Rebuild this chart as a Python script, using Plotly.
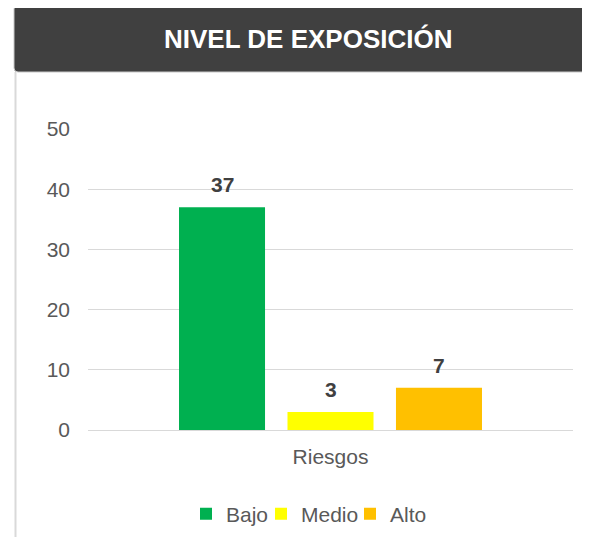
import plotly.graph_objects as go

# page is 590x545; the figure sits at (8, 8) because of the page's body margin
PAGE_W, PAGE_H = 590, 545
OFF = 8
W, H = PAGE_W - OFF, PAGE_H - 2 * OFF

category = ["Riesgos"]
series_names = ["Bajo", "Medio", "Alto"]
series_values = [37, 3, 7]
series_colors = ["#00B050", "#FFFF00", "#FFC000"]
y_ticks = [0, 10, 20, 30, 40, 50]
title_text = "NIVEL DE EXPOSICIÓN"

FONT = "Liberation Sans, Arial, sans-serif"
TXT = "#595959"

# plot area in page pixels
pl, pr, pt, pb = 88, 573, 129, 430
# legend entry left edges (page pixels)
legend_left = [186, 261, 350]


def px(x):
    return (x - OFF) / W


def py(y):
    return 1 - (y - OFF) / H


legend_ids = ["legend", "legend2", "legend3"]

fig = go.Figure()
for name, val, col, lid in zip(series_names, series_values, series_colors, legend_ids):
    fig.add_trace(go.Bar(
        x=category, y=[val], name=name, marker=dict(color=col, line=dict(width=0)),
        legend=lid,
    ))

# data labels above bars
slot_px = 108.5
offsets = [-slot_px, 0, slot_px]
for val, off in zip(series_values, offsets):
    fig.add_annotation(
        x=category[0], y=val, xref="x", yref="y", text=f"<b>{val}</b>",
        showarrow=False, xshift=off, yshift=9, yanchor="bottom",
        font=dict(family=FONT, size=21, color="#404040"),
    )


def rounded_rect(x0, y0, x1, y1, r):
    return (f"M {px(x0+r)},{py(y0)} L {px(x1-r)},{py(y0)} Q {px(x1)},{py(y0)} {px(x1)},{py(y0+r)} "
            f"L {px(x1)},{py(y1-r)} Q {px(x1)},{py(y1)} {px(x1-r)},{py(y1)} "
            f"L {px(x0+r)},{py(y1)} Q {px(x0)},{py(y1)} {px(x0)},{py(y1-r)} "
            f"L {px(x0)},{py(y0+r)} Q {px(x0)},{py(y0)} {px(x0+r)},{py(y0)} Z")


shapes = [
    dict(type="path", xref="paper", yref="paper", path=rounded_rect(14, 5, 640, 72, 4),
         fillcolor="#404040", line=dict(color="#c8c8c8", width=1), layer="above"),
    dict(type="line", xref="paper", yref="paper", x0=px(15.5), x1=px(15.5), y0=py(72), y1=py(PAGE_H + 10),
         line=dict(color="#d9d9d9", width=2)),
]

fig.add_annotation(
    x=px(308), y=py(39), xref="paper", yref="paper", text=f"<b>{title_text}</b>",
    showarrow=False, xanchor="center", yanchor="middle",
    font=dict(family=FONT, size=26, color="#ffffff"),
)

legend_common = dict(orientation="h", xanchor="left", y=py(514), yanchor="middle",
                     font=dict(family=FONT, size=21, color=TXT), itemwidth=30,
                     bgcolor="rgba(0,0,0,0)")

fig.update_layout(
    width=W, height=H,
    margin=dict(l=0, r=0, t=0, b=0, autoexpand=False),
    paper_bgcolor="white", plot_bgcolor="white",
    barmode="group", bargap=0.329, bargroupgap=0.207,
    shapes=shapes,
    showlegend=True,
    legend=dict(x=px(legend_left[0]), **legend_common),
    legend2=dict(x=px(legend_left[1]), **legend_common),
    legend3=dict(x=px(legend_left[2]), **legend_common),
    xaxis=dict(domain=[px(pl), px(pr)], showgrid=False, showline=True, linecolor="#d9d9d9",
               linewidth=1, ticks="", tickfont=dict(family=FONT, size=21, color=TXT),
               ticklabelstandoff=8, fixedrange=True, automargin=False),
    yaxis=dict(domain=[py(pb), py(pt)], range=[0, 50], tickvals=y_ticks, showgrid=True,
               gridcolor="#d9d9d9", gridwidth=1, zeroline=False, showline=False, ticks="",
               tickfont=dict(family=FONT, size=21, color=TXT), ticklabelstandoff=17,
               fixedrange=True, automargin=False),
)

fig.write_html("out.html")
